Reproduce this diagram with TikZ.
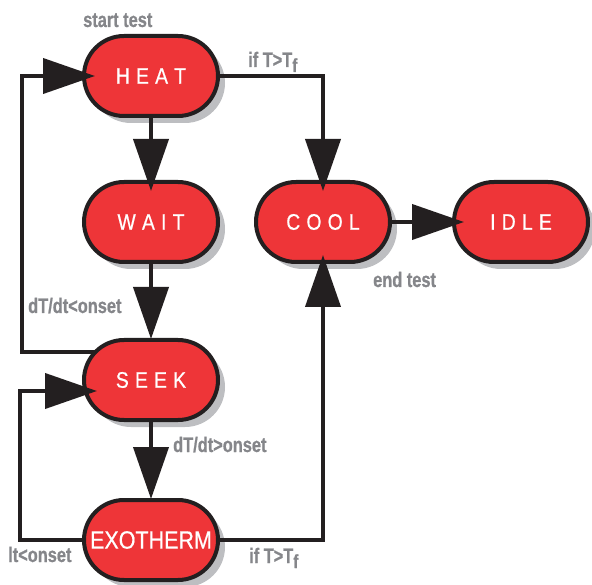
\documentclass[tikz,border=0pt]{standalone}
\usepackage{fontspec}
\setmainfont{Liberation Sans}
\newfontfamily\statefont[FakeStretch=0.86,FakeBold=0.6]{Liberation Sans}
\newfontfamily\condfont[FakeStretch=0.78,FakeBold=0.8]{Liberation Sans}
\usetikzlibrary{arrows.meta,shadows,calc}
\definecolor{statered}{HTML}{EE3538}
\definecolor{inkblack}{HTML}{231F20}
\definecolor{shadowgray}{HTML}{BDBEC1}
\definecolor{labelgray}{HTML}{85868A}
% letter spacing inside the state names
\newcommand\ls{\kern6.2pt}
% lowered subscript used in T_f
\newcommand\subf{\raisebox{-5pt}{\fontsize{19}{19}\selectfont f}}
\tikzset{
  state/.style={draw=inkblack, line width=4pt, fill=statered,
    rounded corners=40pt, minimum width=134pt, minimum height=80pt,
    inner sep=0pt, text=white,
    font=\statefont\fontsize{22.5}{22.5}\selectfont,
    drop shadow={shadow xshift=7pt, shadow yshift=-7pt, fill=shadowgray, opacity=1}},
  conn/.style={draw=inkblack, line width=4pt,
    -{Triangle[length=52pt,width=35pt]}},
  lbl/.style={inner sep=0pt, text=labelgray,
    font=\condfont\bfseries\fontsize{21}{21}\selectfont}
}
\begin{document}
\begin{tikzpicture}[x=1pt,y=-1pt]
\useasboundingbox (0,0) rectangle (592,585);

% states
\node[state] (heat) at (151,76)  {H\ls E\ls A\ls T};
\node[state] (wait) at (151,222) {W\ls A\ls I\ls T};
\node[state] (seek) at (151,380) {S\ls E\ls E\ls K};
\node[state, font=\statefont\fontsize{25}{25}\selectfont] (exo) at (151,540) {EXOTHERM};
\node[state] (cool) at (323,222) {C\ls O\ls O\ls L};
\node[state] (idle) at (521,222) {I\ls D\ls L\ls E};

% transitions
\draw[conn, shorten >=-11pt] (heat.south) -- (wait.north);
\draw[conn, shorten >=-1pt] (wait.south) -- (seek.north);
\draw[conn, shorten >=-1pt] (seek.south) -- (exo.north);
\draw[conn, shorten >=-13pt] ($(seek.center)+(-55.6,-28)$) -- ++(-73.4,0) |- (heat.west);
\draw[conn, shorten >=-11.5pt] (exo.west) -- ++(-62,0) |- ($(seek.center)+(-65.5,11)$);
\draw[conn, shorten >=-11pt] (heat.east) -| (cool.north);
\draw[conn, shorten >=-9pt] (exo.east) -| (cool.south);
\draw[conn, shorten >=-12pt] (cool.east) -- (idle.west);

% transition labels
\node[lbl, anchor=base west] (lstart) at (83,27)  {start test};
\node[lbl, anchor=base west] (lhot)   at (248,67) {if T>T\subf};
\node[lbl, anchor=base west] (lend)   at (373,287) {end test};
\node[lbl, anchor=base west] (lfall)  at (28,313) {dT/dt<onset};
\node[lbl, anchor=base west] (lrise)  at (173,452) {dT/dt>onset};
\node[lbl, anchor=base west] (lback)  at (8,562) {lt<onset};
\node[lbl, anchor=base west] (lhot2)  at (249,563) {if T>T\subf};
\end{tikzpicture}
\end{document}
